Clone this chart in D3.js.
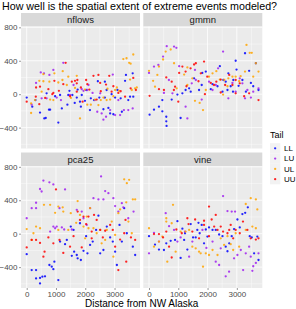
<!DOCTYPE html>
<html>
<head>
<meta charset="utf-8">
<script src="https://cdn.jsdelivr.net/npm/d3@7"></script>
<style>
  body { margin: 0; background: #fff; }
  text { font-family: "Liberation Sans", Arial, sans-serif; }
</style>
</head>
<body>
<svg id="chart"></svg>
<script>
const models = ['nflows', 'gmmn', 'pca25', 'vine'];
const tails = ['LL', 'LU', 'UL', 'UU'];
const tailColors = ['#0000FF', '#A020F0', '#FFA500', '#FF0000'];
const xTicks = [0, 1000, 2000, 3000];
const yTicks = [-400, 0, 400, 800];

// [distance, error] pairs
const nflowsLL = [[0,-40],[190,-150],[300,-70],[455,-220],[600,-290],[650,-285],[680,10],[760,-185],[800,-185],[970,-25],[1080,-340],[1140,-10],[1200,-170],[1390,-125],[1420,-10],[1460,40],[1560,-10],[1640,-105],[1710,-40],[1740,55],[1820,-90],[1850,-150],[1880,-10],[1990,-80],[2030,50],[2160,-190],[2190,-50],[2300,-70],[2430,155],[2480,-40],[2620,-180],[2670,-40],[2670,150],[2730,50],[2790,-165],[2850,-230],[2900,0],[2960,-240],[3020,-40],[3100,50],[3210,-50],[3250,-210],[3360,160],[3390,230],[3470,-70],[3530,-30],[3620,250],[3640,-30]];
const nflowsLU = [[170,-125],[320,135],[480,260],[510,-50],[590,250],[680,-50],[775,230],[910,290],[1025,-40],[1170,-70],[1250,375],[1480,-10],[1600,110],[1880,60],[1940,40],[2070,50],[2110,110],[2250,15],[2330,-70],[2410,-210],[2510,10],[2560,-230],[2620,-305],[2710,-270],[2850,-190],[2940,235],[3020,-250],[3130,-70],[3190,-250],[3320,-190],[3470,-190],[3620,-170]];
const nflowsUL = [[150,-225],[150,-110],[285,-70],[430,160],[510,30],[570,240],[570,155],[775,150],[800,-65],[910,-70],[945,250],[1080,140],[1220,170],[1230,275],[1370,110],[1420,210],[1510,-45],[1650,75],[1710,220],[1820,-290],[1990,55],[2070,-125],[2190,-125],[2330,-65],[2450,-130],[2530,-70],[2620,-40],[2730,-70],[2760,65],[2850,-65],[2960,-25],[3020,50],[3080,80],[3160,40],[3300,420],[3410,430],[3500,375],[3530,175],[3550,365],[3590,50],[3640,475],[3700,70],[3760,80]];
const nflowsUU = [[0,-90],[310,-30],[320,80],[430,-120],[455,90],[630,-45],[740,60],[875,0],[910,15],[945,160],[1100,40],[1250,120],[1330,375],[1480,-25],[1540,150],[1650,160],[1710,130],[1710,30],[1730,170],[1850,80],[1910,-90],[2030,170],[2070,120],[2140,55],[2280,220],[2390,-65],[2450,230],[2510,135],[2530,35],[2710,115],[2820,220],[2900,30],[2960,95],[3130,15],[3210,35],[3360,-30],[3550,70],[3640,195],[3730,50]];

const gmmnLL = [[20,-245],[170,-185],[340,-150],[455,-205],[455,-70],[590,-270],[590,-325],[600,-380],[775,-65],[970,-5],[1080,-285],[1140,10],[1250,50],[1370,70],[1425,30],[1540,190],[1710,50],[1800,110],[1820,255],[1940,270],[2110,60],[2170,120],[2340,95],[2420,335],[2510,30],[2540,170],[2620,150],[2680,50],[2710,250],[2790,95],[2870,30],[2880,170],[2960,400],[2990,295],[3060,100],[3190,170],[3280,490],[3310,30],[3420,280],[3480,135],[3560,95],[3650,370],[3740,50]];
const gmmnLU = [[0,255],[170,330],[320,350],[480,450],[510,15],[605,575],[680,170],[800,10],[855,570],[935,555],[1030,335],[1250,-150],[1310,-290],[1460,130],[1570,290],[1600,170],[1800,-65],[2050,150],[2170,50],[2280,110],[2360,310],[2530,510],[2710,-50],[2850,135],[2960,30],[3100,190],[3190,130],[3280,-50],[3360,50],[3480,-40],[3560,30],[3740,70]];
const gmmnUL = [[0,280],[140,160],[205,90],[285,230],[340,330],[480,415],[570,510],[740,535],[855,370],[945,70],[1200,235],[1310,320],[1310,110],[1480,190],[1570,-80],[1730,-105],[1845,-190],[1940,50],[2050,210],[2170,250],[2300,275],[2420,175],[2530,-5],[2570,170],[2680,95],[2710,190],[2850,210],[2960,210],[3080,155],[3130,215],[3280,270],[3330,590],[3440,495],[3510,495],[3560,210],[3650,370],[3740,270]];
const gmmnUU = [[20,-20],[340,60],[510,50],[590,200],[775,150],[850,50],[890,90],[1000,-90],[1030,255],[1140,330],[1250,270],[1280,95],[1420,310],[1540,355],[1600,370],[1690,155],[1770,250],[1880,390],[1910,0],[1990,210],[2110,135],[2220,110],[2300,150],[2450,175],[2450,20],[2600,110],[2740,230],[2850,110],[2960,170],[2960,10],[3100,130],[3250,-25],[3420,10],[3740,-70]];

const pca25LL = [[0,-245],[170,-435],[320,-435],[320,-535],[455,-530],[455,-595],[535,-515],[625,-510],[775,-375],[855,-395],[910,-425],[945,-335],[1080,-555],[1140,-95],[1310,-125],[1370,-75],[1505,85],[1540,-265],[1600,45],[1620,-215],[1710,-255],[1740,-295],[1820,125],[1850,-315],[1940,-205],[2030,-30],[2075,-235],[2165,-135],[2255,-95],[2370,45],[2450,215],[2510,-235],[2620,-195],[2735,85],[2850,-45],[2940,-95],[3020,-215],[3080,-375],[3170,105],[3250,-95],[3330,305],[3420,5],[3625,-155],[3705,-255]];
const pca25LU = [[0,185],[170,305],[320,370],[320,305],[455,535],[510,505],[570,635],[775,615],[800,25],[910,590],[910,85],[970,65],[1025,85],[1120,305],[1200,75],[1280,50],[1310,530],[1540,50],[1710,285],[1880,265],[1940,185],[2050,105],[2165,305],[2280,425],[2450,410],[2540,685],[2620,410],[2680,510],[2790,485],[2960,425],[3020,330],[3130,265],[3250,365],[3300,315],[3470,185],[3650,265]];
const pca25UL = [[0,55],[170,-75],[230,5],[320,85],[455,65],[590,345],[800,345],[970,250],[1080,325],[1080,45],[1230,315],[1250,265],[1420,45],[1505,245],[1690,130],[1740,390],[1820,225],[1940,85],[1995,-55],[2050,205],[2110,65],[2165,305],[2280,65],[2390,5],[2510,45],[2560,-115],[2680,-75],[2735,45],[2905,145],[2960,-275],[3020,-15],[3130,245],[3190,290],[3330,650],[3400,375],[3420,605],[3475,145],[3500,645],[3590,5],[3625,410],[3705,410]];
const pca25UU = [[0,-165],[170,-75],[320,-75],[455,-110],[570,-275],[610,-215],[740,-45],[910,-115],[1000,530],[1120,-75],[1250,-230],[1480,-155],[1600,-30],[1740,265],[1820,165],[1880,-165],[1940,205],[2030,115],[2110,205],[2220,25],[2220,-55],[2300,225],[2390,165],[2510,45],[2600,-45],[2680,35],[2850,105],[2940,45],[3020,-155],[3130,-435],[3190,-70],[3330,5],[3375,165],[3400,-335],[3560,-45],[3705,-75]];

const vineLL = [[0,-30],[205,-130],[340,-190],[510,-195],[590,-115],[740,-85],[890,-75],[970,150],[1080,-290],[1140,60],[1200,-75],[1230,5],[1310,-190],[1425,115],[1505,-45],[1595,-45],[1650,45],[1690,130],[1730,5],[1800,105],[1880,-115],[1940,50],[1995,-35],[2050,75],[2170,45],[2280,45],[2395,-10],[2510,-30],[2620,-155],[2680,-210],[2740,-115],[2825,-30],[2905,55],[3020,170],[3100,75],[3190,235],[3285,250],[3375,315],[3440,-30],[3510,-45],[3590,-235],[3700,-35],[3740,-315]];
const vineLU = [[0,-235],[170,10],[340,-95],[570,245],[685,90],[855,45],[970,-95],[1080,-45],[1230,25],[1370,-275],[1480,-95],[1825,45],[1960,-170],[2170,-95],[2280,-335],[2395,-375],[2450,-175],[2530,450],[2620,-510],[2680,270],[2735,-455],[2825,265],[2905,-295],[2940,265],[3020,-255],[3135,-195],[3215,-435],[3305,-235],[3420,-155],[3475,-275],[3530,-445],[3560,-390],[3650,-350],[3740,-235]];
const vineUL = [[0,65],[170,-155],[340,-95],[455,-35],[590,185],[590,145],[625,-335],[775,125],[820,345],[910,-215],[1080,25],[1250,25],[1370,45],[1480,-155],[1595,-175],[1710,-215],[1765,-235],[1845,-395],[1940,-235],[2050,-255],[2170,-195],[2340,-255],[2450,-55],[2565,-135],[2680,-30],[2790,-125],[2875,-195],[2960,5],[3080,-155],[3305,355],[3305,45],[3475,425],[3530,85],[3650,410],[3650,65],[3700,290]];
const vineUU = [[170,-5],[340,-5],[480,-45],[590,25],[685,-155],[775,-285],[935,50],[1120,5],[1310,185],[1350,115],[1480,25],[1575,170],[1710,-55],[1880,155],[1880,105],[2050,325],[2050,-30],[2140,170],[2225,85],[2280,225],[2340,45],[2450,85],[2530,25],[2680,5],[2740,45],[2790,105],[2875,-55],[2960,45],[3100,5],[3210,145],[3360,45],[3475,-55],[3650,-70],[3740,-55]];

const seriesByModel = {
  nflows: [nflowsLL, nflowsLU, nflowsUL, nflowsUU],
  gmmn: [gmmnLL, gmmnLU, gmmnUL, gmmnUU],
  pca25: [pca25LL, pca25LU, pca25UL, pca25UU],
  vine: [vineLL, vineLU, vineUL, vineUU]
};

const width = 296, height = 309;
const svg = d3.select('#chart').attr('width', width).attr('height', height);

const colX = [21, 143.3];
const panelW = 119;
const rowY = [26.5, 166];
const panelH = 122;
const stripH = 13.5;

const xScale = d3.scaleLinear().domain([-195, 3870]).range([0, panelW]);
const yScale = d3.scaleLinear().domain([-650, 810]).range([panelH, 0]);
const color = d3.scaleOrdinal().domain(tails).range(tailColors);

svg.append('text')
  .attr('x', 2).attr('y', 9.5)
  .attr('font-size', 10.7).attr('fill', '#000')
  .text('How well is the spatial extent of extreme events modeled?');

models.forEach((model, i) => {
  const col = i % 2, row = Math.floor(i / 2);
  const g = svg.append('g')
    .attr('transform', `translate(${colX[col]}, ${rowY[row]})`);

  // strip
  g.append('rect')
    .attr('x', 0).attr('y', -stripH)
    .attr('width', panelW).attr('height', stripH)
    .attr('fill', '#D9D9D9');
  g.append('text')
    .attr('x', panelW / 2).attr('y', -stripH / 2)
    .attr('dy', '0.36em')
    .attr('text-anchor', 'middle')
    .attr('font-size', 9.5).attr('fill', '#1A1A1A')
    .text(model);

  // panel background and grid
  g.append('rect')
    .attr('width', panelW).attr('height', panelH)
    .attr('fill', '#EBEBEB');

  const xMinor = [500, 1500, 2500, 3500];
  const yMinor = [-600, -200, 200, 600];
  g.selectAll('.xminor').data(xMinor).enter().append('line')
    .attr('x1', d => xScale(d)).attr('x2', d => xScale(d))
    .attr('y1', 0).attr('y2', panelH)
    .attr('stroke', '#fff').attr('stroke-width', 0.4);
  g.selectAll('.yminor').data(yMinor).enter().append('line')
    .attr('y1', d => yScale(d)).attr('y2', d => yScale(d))
    .attr('x1', 0).attr('x2', panelW)
    .attr('stroke', '#fff').attr('stroke-width', 0.4);
  g.selectAll('.xmajor').data(xTicks).enter().append('line')
    .attr('x1', d => xScale(d)).attr('x2', d => xScale(d))
    .attr('y1', 0).attr('y2', panelH)
    .attr('stroke', '#fff').attr('stroke-width', 0.8);
  g.selectAll('.ymajor').data(yTicks).enter().append('line')
    .attr('y1', d => yScale(d)).attr('y2', d => yScale(d))
    .attr('x1', 0).attr('x2', panelW)
    .attr('stroke', '#fff').attr('stroke-width', 0.8);

  // points
  seriesByModel[model].forEach((pts, k) => {
    g.append('g').selectAll('circle')
      .data(pts).enter().append('circle')
      .attr('cx', d => xScale(d[0]))
      .attr('cy', d => yScale(d[1]))
      .attr('r', 1.15)
      .attr('fill', color(tails[k]))
      .attr('fill-opacity', 0.85);
  });

  // axes: y on left column, x on bottom row
  if (col === 0) {
    const ya = g.append('g')
      .call(d3.axisLeft(yScale).tickValues(yTicks).tickSize(2).tickPadding(1.5)
        .tickFormat(d => d < 0 ? '\u2212' + Math.abs(d) : d));
    ya.select('.domain').remove();
    ya.selectAll('line').attr('stroke', '#333').attr('stroke-width', 0.5);
    ya.selectAll('text').attr('font-size', 8).attr('fill', '#4D4D4D')
      .attr('font-family', '"Liberation Sans", Arial, sans-serif');
  }
  if (row === 1) {
    const xa = g.append('g')
      .attr('transform', `translate(0, ${panelH})`)
      .call(d3.axisBottom(xScale).tickValues(xTicks).tickSize(2).tickPadding(1.5)
        .tickFormat(d3.format('d')));
    xa.select('.domain').remove();
    xa.selectAll('line').attr('stroke', '#333').attr('stroke-width', 0.5);
    xa.selectAll('text').attr('font-size', 8).attr('fill', '#4D4D4D')
      .attr('font-family', '"Liberation Sans", Arial, sans-serif');
  }
});

// x axis title
svg.append('text')
  .attr('x', (colX[0] + colX[1] + panelW) / 2).attr('y', 307)
  .attr('text-anchor', 'middle')
  .attr('font-size', 10).attr('fill', '#000')
  .text('Distance from NW Alaska');

// legend
const legend = svg.append('g').attr('transform', 'translate(270, 0)');
legend.append('text')
  .attr('x', 0).attr('y', 138)
  .attr('font-size', 9).attr('fill', '#000')
  .text('Tail');
tails.forEach((t, k) => {
  const cy = 148.3 + k * 10.3;
  legend.append('rect')
    .attr('x', 0).attr('y', cy - 5.15)
    .attr('width', 10.3).attr('height', 10.3)
    .attr('fill', '#F2F2F2');
  legend.append('circle')
    .attr('cx', 5.15).attr('cy', cy).attr('r', 1.15)
    .attr('fill', color(t)).attr('fill-opacity', 0.85);
  legend.append('text')
    .attr('x', 14).attr('y', cy).attr('dy', '0.35em')
    .attr('font-size', 8).attr('fill', '#000')
    .text(t);
});
</script>
</body>
</html>
